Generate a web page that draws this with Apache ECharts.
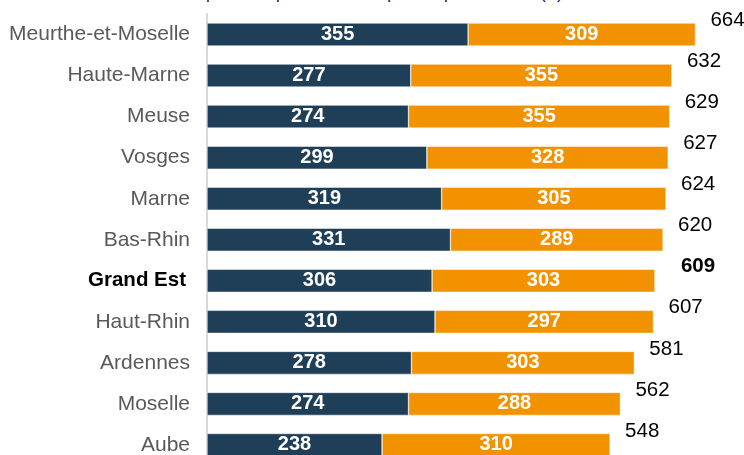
<!DOCTYPE html>
<html>
<head>
<meta charset="utf-8">
<script src="https://cdn.jsdelivr.net/npm/echarts@6/dist/echarts.min.js"></script>
<style>
html,body{margin:0;padding:0;background:#fff;overflow:hidden;}
#chart{width:744px;height:470px;}
</style>
</head>
<body>
<div id="chart"></div>
<script>
const categories = ['Meurthe-et-Moselle','Haute-Marne','Meuse','Vosges','Marne','Bas-Rhin','Grand Est','Haut-Rhin','Ardennes','Moselle','Aube'];
const part1 = [355,277,274,299,319,331,306,310,278,274,238];
const part2 = [309,355,355,328,305,289,303,297,303,288,310];
const totals = [664,632,629,627,624,620,609,607,581,562,548];
const titleText = 'Dépenses par habitant par département (€)';
const highlight = 'Grand Est';

const chart = echarts.init(document.getElementById('chart'));
const FONT = 'Liberation Sans, Arial, sans-serif';

chart.setOption({
  animation: false,
  graphic: [{
    type: 'text',
    left: 'center',
    top: -18,
    style: {
      text: titleText,
      fill: '#3a2f7c',
      font: '20px ' + FONT
    }
  }],
  grid: { left: 207, top: 14, width: 514.9, height: 451.5, containLabel: false },
  xAxis: { type: 'value', min: 0, max: 700, show: false },
  yAxis: {
    type: 'category',
    data: categories,
    inverse: true,
    axisTick: { show: false },
    axisLine: { show: true, lineStyle: { color: '#d9d9d9', width: 2 } },
    axisLabel: {
      margin: 17,
      fontFamily: FONT,
      fontSize: 21,
      color: '#595959',
      formatter: v => v === highlight ? '{b|' + v + '}' : v,
      rich: { b: { fontWeight: 'bold', color: '#000', fontSize: 20.5, fontFamily: FONT, padding: [0, 4, 0, 0] } }
    }
  },
  series: [
    {
      type: 'bar', stack: 'tot', data: part1, barWidth: 23,
      itemStyle: { color: '#1f3f58', borderColor: '#ffffff', borderWidth: 0.5 },
      label: { show: true, position: 'inside', color: '#fff', fontWeight: 'bold', fontSize: 20, fontFamily: FONT }
    },
    {
      type: 'bar', stack: 'tot', data: part2, barWidth: 23,
      itemStyle: { color: '#f39200', borderColor: '#ffffff', borderWidth: 0.5 },
      label: { show: true, position: 'inside', color: '#fff', fontWeight: 'bold', fontSize: 20, fontFamily: FONT }
    },
    {
      type: 'bar', data: totals.map((v, i) => ({
        value: v,
        label: categories[i] === highlight ? { fontWeight: 'bold', padding: [0, 0, 0, 11] } : {}
      })),
      barWidth: 23, barGap: '-100%', silent: true,
      itemStyle: { color: 'rgba(0,0,0,0)' },
      label: { show: true, position: 'right', distance: 15, offset: [0, -14], color: '#000', fontSize: 20.5, fontFamily: FONT }
    }
  ]
});
</script>
</body>
</html>
